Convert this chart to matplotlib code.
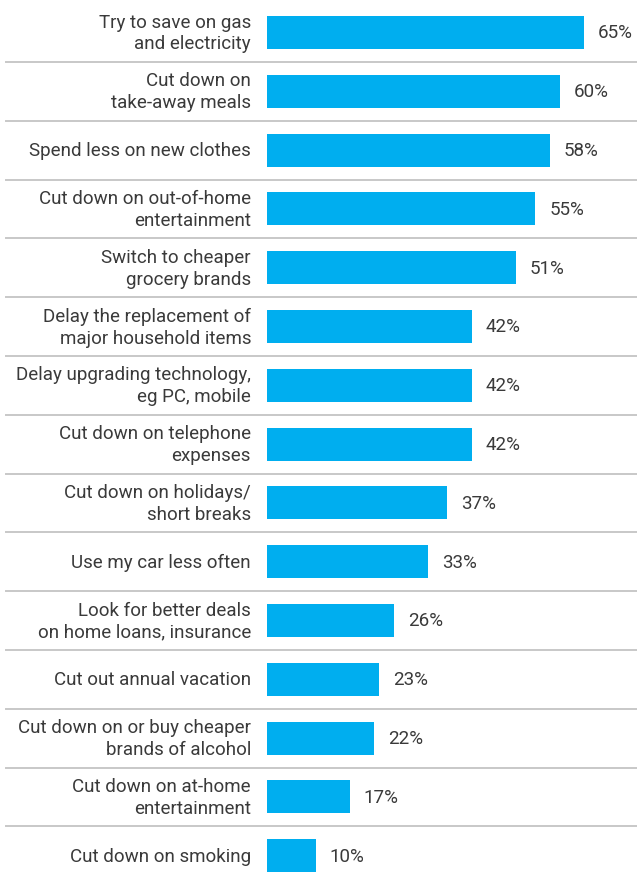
import matplotlib
matplotlib.use('Agg')
import matplotlib.pyplot as plt

categories = [
    'Try to save on gas\nand electricity',
    'Cut down on\ntake-away meals',
    'Spend less on new clothes',
    'Cut down on out-of-home\nentertainment',
    'Switch to cheaper\ngrocery brands',
    'Delay the replacement of\nmajor household items',
    'Delay upgrading technology,\neg PC, mobile',
    'Cut down on telephone\nexpenses',
    'Cut down on holidays/\nshort breaks',
    'Use my car less often',
    'Look for better deals\non home loans, insurance',
    'Cut out annual vacation',
    'Cut down on or buy cheaper\nbrands of alcohol',
    'Cut down on at-home\nentertainment',
    'Cut down on smoking',
]
values = [65, 60, 58, 55, 51, 42, 42, 42, 37, 33, 26, 23, 22, 17, 10]

plt.rcParams['font.family'] = ['Roboto', 'DejaVu Sans']

bar_color = '#00AEEF'
text_color = '#3a3a3a'

fig = plt.figure(figsize=(6.37, 8.78), dpi=100)
ax = fig.add_axes([0, 0, 1, 1])

# pixel geometry: bars start at 267px, ~4.88px per percent
px_per = 4.877
ax.set_xlim(-267 / px_per, (637 - 267) / px_per)
pitch = 58.8
ax.set_ylim((878 - 33.5) / pitch, -33.5 / pitch)

y = list(range(len(values)))
ax.barh(y, values, height=0.56, color=bar_color, left=0)

fs = 13.5
for i, (cat, v) in enumerate(zip(categories, values)):
    ax.annotate(cat, xy=(0, i), xytext=(-16 * 0.72, 0), textcoords='offset points',
                ha='right', va='center', fontsize=fs, color=text_color,
                linespacing=1.28)
    ax.annotate(f'{v}%', xy=(v, i), xytext=(14 * 0.72, 0), textcoords='offset points',
                ha='left', va='center', fontsize=fs, color=text_color)

for i in range(len(values) - 1):
    ax.axhline(i + 0.5, xmin=6 / 637, xmax=1, color='#c8c8c8', linewidth=1.4)

ax.axis('off')
fig.savefig('out.png', dpi=100)
